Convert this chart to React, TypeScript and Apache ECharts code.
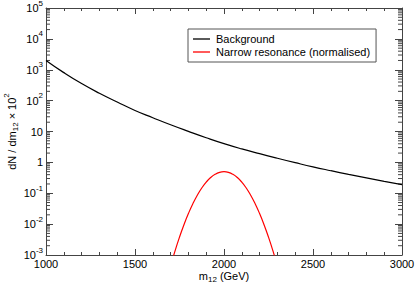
import React, { useEffect, useRef } from "react";
import * as echarts from "echarts";

// Background spectrum
const bgMass = [1000, 1100, 1200, 1300, 1400, 1500, 1600, 1700, 1800, 1900, 2000, 2100, 2200, 2300, 2400, 2500, 2600, 2700, 2800, 2900, 3000];
const bgValues = [2000, 807, 356, 173, 90, 48, 27.9, 16.5, 10.1, 6.3, 4.05, 2.73, 1.91, 1.36, 0.98, 0.715, 0.537, 0.408, 0.314, 0.244, 0.19];

// Narrow resonance (normalised)
const resMass = [1675, 1700, 1725, 1750, 1775, 1800, 1825, 1850, 1875, 1900, 1925, 1950, 1975, 2000, 2025, 2050, 2075, 2100, 2125, 2150, 2175, 2200, 2225, 2250, 2275, 2300, 2325];
const resValues = [0.00013, 0.000442, 0.00136, 0.00379, 0.00957, 0.022, 0.0457, 0.0862, 0.1476, 0.229, 0.322, 0.411, 0.476, 0.5, 0.476, 0.411, 0.322, 0.229, 0.1476, 0.0862, 0.0457, 0.022, 0.00957, 0.00379, 0.00136, 0.000442, 0.00013];

const xMin = 1000;
const xMax = 3000;
const xInterval = 500;
const yMin = 1e-3;
const yMax = 1e5;
const minorMultipliers = [2, 3, 4, 5, 6, 7, 8, 9];
const decadeExponents = [-3, -2, -1, 0, 1, 2, 3, 4];

const AX = "#444";
const FONT = "Liberation Sans, Arial, sans-serif";

export default function App() {
  const ref = useRef<HTMLDivElement>(null);
  useEffect(() => {
    const chart = echarts.init(ref.current!, null, { renderer: "svg" });
    const minorVals: number[][] = [];
    decadeExponents.forEach((e) =>
      minorMultipliers.forEach((k) => minorVals.push([xMin, k * Math.pow(10, e)]))
    );
    const supStyle = { fontSize: 8, lineHeight: 8, padding: [0, 0, 10, 0], color: "#000", fontFamily: FONT };
    const subStyle = { fontSize: 8, lineHeight: 8, padding: [8, 0, 0, 0], color: "#000", fontFamily: FONT };
    const option: any = {
      animation: false,
      textStyle: { fontFamily: FONT },
      grid: { left: 46, right: 14, top: 8, bottom: 31, outerBoundsMode: "none", containLabel: false },
      legend: {
        orient: "vertical",
        left: 188,
        top: 29,
        padding: [4, 6, 4, 5],
        itemGap: 1,
        itemWidth: 17,
        itemHeight: 1.3,
        icon: "rect",
        borderColor: "#555",
        borderWidth: 1,
        borderRadius: 0,
        textStyle: { fontSize: 11, color: "#000", fontFamily: FONT, padding: [0, 0, 0, 1], lineHeight: 12 },
        data: [
          { name: "Background", icon: "rect", itemStyle: { color: "#000" } },
          { name: "Narrow resonance (normalised)", icon: "rect", itemStyle: { color: "#ff0000" } },
        ],
      },
      xAxis: [
        {
          type: "value",
          min: xMin,
          max: xMax,
          interval: xInterval,
          name: "m{sub|12} (GeV)",
          nameLocation: "middle",
          nameGap: 15,
          nameMoveOverlap: false,
          nameTextStyle: {
            fontSize: 11,
            color: "#000",
            fontFamily: FONT,
            rich: { sub: subStyle },
          },
          axisLine: { show: true, lineStyle: { color: AX, width: 1 } },
          axisTick: { show: true, inside: true, length: 6, lineStyle: { color: AX } },
          minorTick: { show: true, splitNumber: 5, length: 3, lineStyle: { color: AX } },
          axisLabel: { fontSize: 11, color: "#000", margin: 3, fontFamily: FONT, formatter: (v: number) => String(v) },
          splitLine: { show: false },
        },
        {
          type: "value",
          position: "top",
          min: xMin,
          max: xMax,
          interval: xInterval,
          axisLine: { show: true, onZero: false, lineStyle: { color: AX, width: 1 } },
          axisTick: { show: true, inside: true, length: 6, lineStyle: { color: AX } },
          minorTick: { show: true, splitNumber: 5, length: 3, lineStyle: { color: AX } },
          axisLabel: { show: false },
          splitLine: { show: false },
        },
      ],
      yAxis: [
        {
          type: "log",
          logBase: 10,
          min: yMin,
          max: yMax,
          name: "dN / dm{sub|12} × 10{s|2}",
          nameLocation: "middle",
          nameRotate: 90,
          nameGap: 29,
          nameMoveOverlap: false,
          nameTextStyle: {
            fontSize: 11,
            color: "#000",
            fontFamily: FONT,
            rich: { sub: subStyle, s: supStyle },
          },
          axisLine: { show: true, lineStyle: { color: AX, width: 1 } },
          axisTick: { show: true, inside: true, length: 7, lineStyle: { color: AX } },
          axisLabel: {
            fontSize: 11,
            color: "#000",
            margin: 3,
            fontFamily: FONT,
            formatter: (v: number) => {
              const e = Math.round(Math.log10(v));
              if (e === 0) return "1";
              if (e === 1) return "10";
              return `{b|10}{s|${e}}`;
            },
            rich: {
              b: { fontSize: 11, lineHeight: 11, color: "#000", fontFamily: FONT },
              s: supStyle,
            },
          },
          splitLine: { show: false },
        },
        {
          type: "log",
          logBase: 10,
          min: yMin,
          max: yMax,
          position: "right",
          axisLine: { show: true, onZero: false, lineStyle: { color: AX, width: 1 } },
          axisTick: { show: true, inside: true, length: 7, lineStyle: { color: AX } },
          axisLabel: { show: false },
          splitLine: { show: false },
        },
      ],
      series: [
        {
          name: "Background",
          type: "line",
          data: bgMass.map((m, i) => [m, bgValues[i]]),
          showSymbol: false,
          symbol: "none",
          smooth: true,
          lineStyle: { color: "#000", width: 1.2 },
          itemStyle: { color: "#000" },
          clip: true,
        },
        {
          name: "Narrow resonance (normalised)",
          type: "line",
          data: resMass.map((m, i) => [m, resValues[i]]),
          showSymbol: false,
          symbol: "none",
          smooth: true,
          lineStyle: { color: "#ff0000", width: 1.2 },
          itemStyle: { color: "#ff0000" },
          clip: true,
        },
        {
          type: "custom",
          silent: true,
          clip: false,
          data: minorVals,
          renderItem: (_p: any, api: any) => {
            const v = api.value(1);
            const pL = api.coord([xMin, v]);
            const pR = api.coord([xMax, v]);
            return {
              type: "group",
              children: [
                { type: "line", shape: { x1: pL[0], y1: pL[1], x2: pL[0] + 4, y2: pL[1] }, style: { stroke: AX, lineWidth: 1 } },
                { type: "line", shape: { x1: pR[0] - 4, y1: pR[1], x2: pR[0], y2: pR[1] }, style: { stroke: AX, lineWidth: 1 } },
              ],
            };
          },
        },
      ],
    };
    chart.setOption(option);
    return () => chart.dispose();
  }, []);
  return <div ref={ref} style={{ position: "fixed", left: 0, top: 0, width: 416, height: 286, background: "#fff" }} />;
}
